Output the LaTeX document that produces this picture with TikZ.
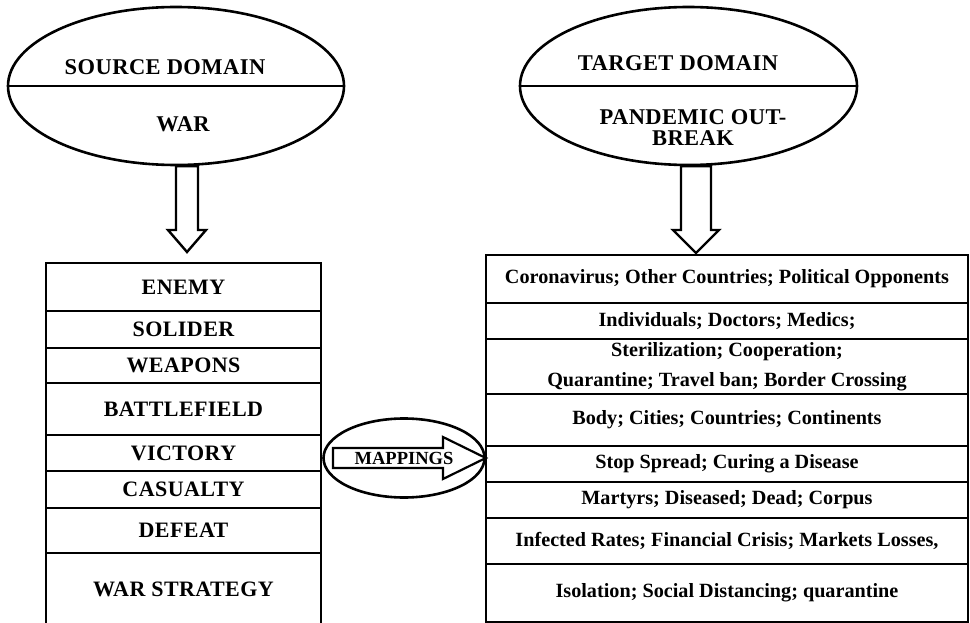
\documentclass[tikz,border=0pt]{standalone}
\usepackage{fontspec}
\setmainfont{Liberation Serif}
\newfontfamily\capsfont[LetterSpace=2]{Liberation Serif}
\usepackage{tikz}
\usetikzlibrary{calc}
\usetikzlibrary{positioning}
\usetikzlibrary{shapes.geometric}
\tikzset{>=latex}
\tikzstyle{dom} = [ellipse, draw, line width=2.6pt, inner sep=0]
\tikzstyle{lbl} = [draw=none, inner sep=0, font=\capsfont\bfseries\fontsize{22.5}{21}\selectfont, align=center]
\tikzstyle{lrow} = [rectangle, draw, line width=2pt, outer sep=0, minimum width=275, font=\capsfont\bfseries\fontsize{22}{26}\selectfont]
\tikzstyle{rrow} = [rectangle, draw, line width=2pt, outer sep=0, minimum width=482, font=\bfseries\fontsize{20.2}{30}\selectfont, align=center]
\tikzstyle{blk} = [draw, line width=2.4pt, fill=white, line join=miter]

\begin{document}
\begin{tikzpicture}[x=1pt, y=-1pt]
\useasboundingbox (0, 0) rectangle (970, 623);
% source side
\node [dom, minimum width=336, minimum height=158] (S) at (176, 86) {};
\draw [line width=2pt] (S.west) to (S.east);
\node [lbl] (Sa) at (165, 67) {SOURCE DOMAIN};
\node [lbl] (Sb) at (183, 124) {WAR};
\node [lrow, minimum height=48] (L1) at (183.5, 287) {ENEMY};
\node [lrow, minimum height=37, below=0pt of L1] (L2) {SOLIDER};
\node [lrow, minimum height=35, below=0pt of L2] (L3) {WEAPONS};
\node [lrow, minimum height=52, below=0pt of L3] (L4) {BATTLEFIELD};
\node [lrow, minimum height=36, below=0pt of L4] (L5) {VICTORY};
\node [lrow, minimum height=37, below=0pt of L5] (L6) {CASUALTY};
\node [lrow, minimum height=45, below=0pt of L6] (L7) {DEFEAT};
\node [lrow, minimum height=72, below=0pt of L7] (L8) {WAR STRATEGY};
\coordinate (st) at (187, 252);
\draw [blk] (st) -- ($(st)+(-19,-22)$) -- ($(st)+(-11,-22)$) -- ($(st |- S.south)+(-11,0)$)
  -- ($(st |- S.south)+(11,0)$) -- ($(st)+(11,-22)$) -- ($(st)+(19,-22)$) -- cycle;
% target side
\node [dom, minimum width=337, minimum height=158] (T) at (688.5, 86) {};
\draw [line width=2pt] (T.west) to (T.east);
\node [lbl] (Ta) at (678, 63) {TARGET DOMAIN};
\node [lbl] (Tb) at (693, 128) {PANDEMIC OUT-\\BREAK};
\node [rrow, minimum height=48] (R1) at (727, 279) {Coronavirus; Other Countries; Political Opponents};
\node [rrow, minimum height=36, below=0pt of R1] (R2) {Individuals; Doctors; Medics;};
\node [rrow, minimum height=52, below=0pt of R2] (R3) {Sterilization; Cooperation;\\Quarantine; Travel ban; Border Crossing};
\node [rrow, minimum height=52, below=0pt of R3] (R4) {Body; Cities; Countries; Continents};
\node [rrow, minimum height=36, below=0pt of R4] (R5) {Stop Spread; Curing a Disease};
\node [rrow, minimum height=36, below=0pt of R5] (R6) {Martyrs; Diseased; Dead; Corpus};
\node [rrow, minimum height=46, below=0pt of R6] (R7) {Infected Rates; Financial Crisis; Markets Losses,};
\node [rrow, minimum height=58, below=0pt of R7] (R8) {Isolation; Social Distancing; quarantine};
\coordinate (tt) at (696, 253);
\draw [blk] (tt) -- ($(tt)+(-23,-23)$) -- ($(tt)+(-15,-23)$) -- ($(tt |- T.south)+(-15,0)$)
  -- ($(tt |- T.south)+(15,0)$) -- ($(tt)+(15,-23)$) -- ($(tt)+(23,-23)$) -- cycle;
% mappings
\node [dom, minimum width=161, minimum height=79] (M) at (404, 458) {};
\draw [blk, line width=2.2pt] ($(M)+(-71,-10)$) -- ($(M)+(39,-10)$) -- ($(M)+(39,-21)$) -- (M.east)
  -- ($(M)+(39,21)$) -- ($(M)+(39,10)$) -- ($(M)+(-71,10)$) -- cycle;
\node [draw=none, inner sep=0, font=\bfseries\fontsize{18.5}{18}\selectfont] (Mt) at (404, 458) {MAPPINGS};
\end{tikzpicture}
\end{document}
